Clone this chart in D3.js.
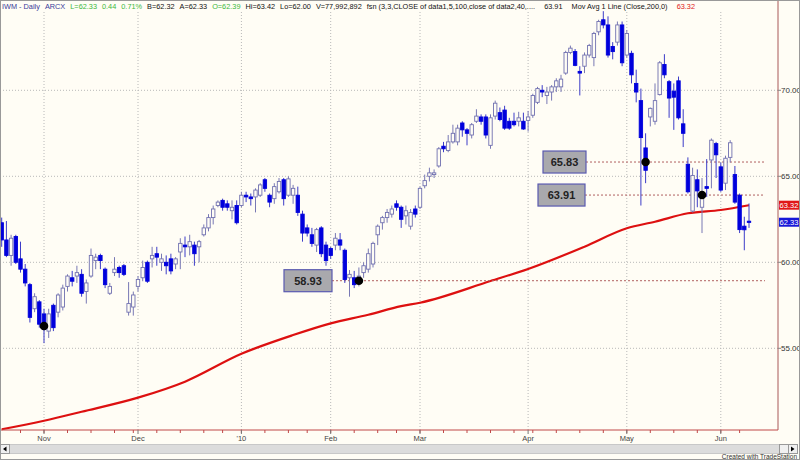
<!DOCTYPE html>
<html><head><meta charset="utf-8">
<script src="https://cdn.jsdelivr.net/npm/d3@7"></script>
<style>body{margin:0;background:#fff}svg{display:block}</style>
</head><body><svg id="c" width="800" height="460"></svg>
<script>
// ---------- DATA ----------
const dates = [
"2009-10-20","2009-10-21","2009-10-22","2009-10-23","2009-10-26","2009-10-27","2009-10-28","2009-10-29","2009-10-30",
"2009-11-02","2009-11-03","2009-11-04","2009-11-05","2009-11-06","2009-11-09","2009-11-10","2009-11-11","2009-11-12","2009-11-13","2009-11-16","2009-11-17","2009-11-18","2009-11-19","2009-11-20","2009-11-23","2009-11-24","2009-11-25","2009-11-27","2009-11-30",
"2009-12-01","2009-12-02","2009-12-03","2009-12-04","2009-12-07","2009-12-08","2009-12-09","2009-12-10","2009-12-11","2009-12-14","2009-12-15","2009-12-16","2009-12-17","2009-12-18","2009-12-21","2009-12-22","2009-12-23","2009-12-24","2009-12-28","2009-12-29","2009-12-30","2009-12-31",
"2010-01-04","2010-01-05","2010-01-06","2010-01-07","2010-01-08","2010-01-11","2010-01-12","2010-01-13","2010-01-14","2010-01-15","2010-01-19","2010-01-20","2010-01-21","2010-01-22","2010-01-25","2010-01-26","2010-01-27","2010-01-28","2010-01-29",
"2010-02-01","2010-02-02","2010-02-03","2010-02-04","2010-02-05","2010-02-08","2010-02-09","2010-02-10","2010-02-11","2010-02-12","2010-02-16","2010-02-17","2010-02-18","2010-02-19","2010-02-22","2010-02-23","2010-02-24","2010-02-25","2010-02-26",
"2010-03-01","2010-03-02","2010-03-03","2010-03-04","2010-03-05","2010-03-08","2010-03-09","2010-03-10","2010-03-11","2010-03-12","2010-03-15","2010-03-16","2010-03-17","2010-03-18","2010-03-19","2010-03-22","2010-03-23","2010-03-24","2010-03-25","2010-03-26","2010-03-29","2010-03-30","2010-03-31",
"2010-04-01","2010-04-05","2010-04-06","2010-04-07","2010-04-08","2010-04-09","2010-04-12","2010-04-13","2010-04-14","2010-04-15","2010-04-16","2010-04-19","2010-04-20","2010-04-21","2010-04-22","2010-04-23","2010-04-26","2010-04-27","2010-04-28","2010-04-29","2010-04-30",
"2010-05-03","2010-05-04","2010-05-05","2010-05-06","2010-05-07","2010-05-10","2010-05-11","2010-05-12","2010-05-13","2010-05-14","2010-05-17","2010-05-18","2010-05-19","2010-05-20","2010-05-21","2010-05-24","2010-05-25","2010-05-26","2010-05-27","2010-05-28",
"2010-06-01","2010-06-02","2010-06-03","2010-06-04","2010-06-07","2010-06-08","2010-06-09"];

const open = [62.3,61.3,60.4,61.5,60.2,59.6,58.7,57.3,57.7,
57.0,56.0,57.5,57.1,57.4,58.6,59.1,59.2,59.3,58.3,59.2,60.1,60.4,59.6,58.2,59.4,59.7,59.8,57.1,57.4,
58.6,59.1,60.0,60.2,60.5,60.0,60.0,60.2,59.9,60.6,61.0,60.9,61.0,60.9,61.6,62.0,62.6,63.3,63.6,63.4,63.0,63.3,
63.3,63.9,63.8,63.8,63.9,64.8,63.9,63.7,64.1,64.8,63.9,63.9,63.9,62.8,62.0,61.6,61.0,62.0,61.0,
60.8,61.0,61.3,60.7,59.1,59.1,58.9,59.4,59.6,59.9,61.6,62.3,62.6,62.8,63.4,63.2,62.7,62.1,63.1,
63.2,64.45,65.0,65.1,65.6,66.75,66.5,67.0,67.0,68.1,67.7,67.4,68.2,68.45,68.45,66.8,68.5,68.7,68.85,68.2,68.2,68.2,68.2,
68.25,68.55,69.3,70.0,69.7,69.9,70.2,70.2,71.0,72.2,72.25,71.1,71.4,72.05,71.9,73.4,74.1,73.8,72.55,72.8,73.8,
72.05,72.15,70.4,69.4,66.65,68.45,68.2,69.75,71.5,70.5,69.95,70.55,68.05,65.7,62.98,64.8,63.2,64.4,65.95,66.9,
65.55,64.6,66.1,65.1,63.9,62.1,62.39];
const high = [62.6,62.4,61.6,61.6,61.2,59.9,58.8,58.2,57.8,
57.3,57.3,57.6,58.2,58.7,59.3,59.5,59.8,59.6,59.0,60.8,60.5,60.5,59.7,58.8,60.3,59.8,59.9,58.85,58.3,
59.2,60.1,60.1,60.9,60.9,60.5,60.4,60.5,60.3,61.4,61.5,61.6,61.2,61.3,62.2,62.8,63.3,63.6,63.7,63.6,63.6,63.6,
64.1,64.1,64.0,64.3,64.6,64.9,64.0,64.6,64.9,64.9,65.0,64.5,64.4,63.0,62.2,62.0,62.0,62.1,61.2,
60.9,61.7,61.7,60.8,59.55,59.5,59.7,60.0,60.8,61.2,62.2,62.7,63.1,63.3,63.6,63.3,63.3,63.1,63.3,
64.4,65.1,65.5,65.4,66.7,67.0,67.4,68.0,68.0,68.2,67.8,68.1,68.9,68.6,68.6,68.6,69.4,69.0,69.1,68.4,68.7,68.75,68.7,
68.8,69.8,70.2,70.3,70.2,70.3,70.7,70.9,72.3,72.6,72.4,71.4,72.2,72.7,73.4,74.1,74.6,74.3,72.8,74.0,74.0,
73.5,72.3,71.2,70.1,67.5,69.0,70.4,71.7,72.1,70.6,70.4,70.8,68.9,66.1,65.5,65.4,64.9,66.0,67.2,67.0,
65.8,66.2,67.1,65.6,64.0,62.65,63.42];
const low = [60.9,60.3,59.8,59.9,59.4,58.6,56.5,57.1,56.2,
55.3,55.6,56.0,56.8,57.2,58.3,58.6,58.8,58.0,57.6,59.1,59.6,59.6,58.5,58.1,59.2,59.1,59.2,56.9,56.9,
58.3,58.9,58.8,59.7,59.8,59.5,59.3,59.3,59.6,59.6,60.3,60.4,59.8,60.0,61.5,61.8,62.2,63.2,63.0,63.0,62.5,62.2,
63.2,63.5,63.3,62.9,63.8,64.1,63.2,63.4,64.0,63.3,63.8,63.4,62.7,61.2,61.5,60.9,60.6,60.3,59.8,
60.2,60.7,60.7,58.8,58.0,58.5,58.6,59.1,59.4,59.7,61.0,61.9,62.3,62.6,63.0,62.0,62.2,61.9,62.6,
63.1,64.3,64.7,64.9,65.5,66.4,66.4,66.9,66.8,67.3,66.8,67.2,68.1,68.0,67.2,66.6,68.3,68.2,67.7,67.7,67.9,67.9,67.7,
67.6,68.4,69.2,69.6,69.2,69.4,69.9,69.9,70.9,72.1,71.4,69.7,71.0,71.9,71.4,73.2,73.6,71.9,71.8,72.6,71.4,
71.9,70.4,69.3,63.3,64.6,67.9,68.0,69.7,70.7,68.4,67.7,68.3,66.7,64.0,62.9,63.2,61.7,63.8,64.3,64.9,
64.1,64.2,65.8,63.4,61.7,60.7,62.00];
const close = [61.3,60.4,61.4,60.0,59.6,58.8,56.8,58.0,56.4,
56.1,57.0,56.2,58.1,58.5,59.2,58.9,59.4,58.2,58.8,60.4,60.3,60.1,58.7,58.6,59.6,59.4,59.3,57.6,58.1,
59.0,59.7,58.9,60.4,60.3,60.2,59.8,59.5,60.2,61.1,60.9,61.2,60.5,61.2,62.0,62.6,63.1,63.5,63.2,63.2,63.2,62.3,
63.9,63.8,63.7,64.2,64.5,64.3,63.5,64.4,64.7,63.7,64.85,64.3,62.9,61.7,61.7,61.1,61.9,60.5,60.1,
60.4,61.4,61.0,59.0,59.3,58.7,59.2,59.8,60.5,61.1,62.1,62.6,62.9,63.1,63.2,62.5,63.0,62.9,62.8,
64.3,64.75,65.2,65.2,66.6,66.6,67.0,67.5,67.8,67.7,67.5,68.0,68.5,68.2,67.4,68.4,69.25,68.3,67.8,67.8,68.0,68.4,67.75,
68.45,69.7,70.1,69.9,69.9,70.2,70.55,70.65,72.2,72.45,71.45,71.0,72.05,72.6,73.3,74.0,73.8,72.05,72.25,73.8,71.6,
73.3,70.9,69.9,67.25,65.35,68.95,69.4,71.6,70.9,69.55,69.6,68.4,67.5,64.1,65.05,64.15,63.9,64.3,67.1,66.25,
64.2,66.05,66.95,63.5,61.9,61.89,62.33];

// 200-day moving average, read at selected bars
const maDates  = ["2009-10-20","2009-11-02","2009-11-12","2009-12-01","2009-12-15","2010-01-04","2010-01-20","2010-02-01","2010-02-11","2010-02-23","2010-03-01","2010-03-22","2010-04-01","2010-04-20","2010-05-03","2010-05-11","2010-05-20","2010-06-01","2010-06-09"];
const maValues = [50.29,50.79,51.31,52.13,53.06,54.68,55.77,56.45,56.95,57.45,57.65,58.91,59.61,60.91,61.98,62.36,62.85,63.04,63.32];

const yTicks = [55,60,65,70];
const monthTickDates = ["2009-11-02","2009-12-01","2010-01-04","2010-02-01","2010-03-01","2010-04-01","2010-05-03","2010-06-01"];
const monthTickLabels = ["Nov","Dec","'10","Feb","Mar","Apr","May","Jun"];

const swingDots   = [{d:"2009-11-02",v:56.30},{d:"2010-02-09",v:58.93},{d:"2010-05-07",v:65.83},{d:"2010-05-25",v:63.91}];
const levelLabels = ["58.93","65.83","63.91"];
const levelValues = [58.93,65.83,63.91];
const lastClose = 62.33, lastMA = 63.32;
const headerParts = ["IWM - Daily","ARCX","L=62.33","0.44","0.71%","B=62.32","A=62.33","O=62.39","Hi=63.42","Lo=62.00",
  "V=77,992,892","fsn (3,3,CLOSE of data1,5,100,close of data2,40,....","63.91","Mov Avg 1 Line (Close,200,0)","63.32"];

// ---------- DRAW ----------
const svg = d3.select("#c");
const W = 800, H = 460, axisX = 778, axisY = 430;
const bg = "#fffdf5";
svg.append("rect").attr("width",W).attr("height",H).attr("fill",bg);

const x = d3.scalePoint().domain(dates).range([1.7, 749.0]);
const y = d3.scaleLinear().domain([50,75]).range([434.3, 4.3]);
const font = "'Liberation Sans', Arial, sans-serif";
const narrow = "'Liberation Sans Narrow','Liberation Sans',Arial,sans-serif";

// grid
const g = svg.append("g");
g.selectAll(".hg").data(yTicks).join("line")
 .attr("x1",0).attr("x2",axisX).attr("y1",d=>y(d)).attr("y2",d=>y(d))
 .attr("stroke","#b8b8b8").attr("stroke-dasharray","1,2");
g.selectAll(".vg").data(monthTickDates).join("line")
 .attr("x1",d=>x(d)).attr("x2",d=>x(d)).attr("y1",12).attr("y2",axisY)
 .attr("stroke","#b8b8b8").attr("stroke-dasharray","1,2");

// MA line
const ma = maDates.map((d,i)=>({d, v:maValues[i]}));
svg.append("path").datum(ma)
 .attr("d", d3.line().x(p=>x(p.d)).y(p=>y(p.v)).curve(d3.curveMonotoneX))
 .attr("fill","none").attr("stroke","#dd1010").attr("stroke-width",2.2);

// level lines and boxes
const boxes = [{x:284,w:48},{x:543,w:43},{x:538,w:47}];
levelValues.forEach((v,i)=>{
  const b = boxes[i], yy = y(v);
  svg.append("line").attr("x1",b.x+b.w).attr("x2",765).attr("y1",yy).attr("y2",yy)
    .attr("stroke","#b06060").attr("stroke-dasharray","2,2").attr("stroke-width",1);
  svg.append("rect").attr("x",b.x).attr("y",yy-11).attr("width",b.w).attr("height",22)
    .attr("fill","#a9a9ad").attr("stroke","#5a5ab0").attr("stroke-width",1.2);
  svg.append("text").attr("x",b.x+b.w/2).attr("y",yy+4).attr("text-anchor","middle")
    .attr("font-family",font).attr("font-weight","bold").attr("font-size",11).attr("fill","#222")
    .text(levelLabels[i]);
});

// candles
const idx = d3.range(dates.length);
const cg = svg.append("g");
const bw = 3.4;
cg.selectAll("line.w").data(idx).join("line")
 .attr("x1",i=>x(dates[i])).attr("x2",i=>x(dates[i]))
 .attr("y1",i=>y(high[i])).attr("y2",i=>y(low[i]))
 .attr("stroke",i=>close[i]>=open[i]?"#7878b4":"#3c3cc8").attr("stroke-width",1);
cg.selectAll("rect.b").data(idx).join("rect")
 .attr("x",i=>x(dates[i])-bw/2)
 .attr("y",i=>y(Math.max(open[i],close[i])))
 .attr("width",bw)
 .attr("height",i=>Math.max(1.2, Math.abs(y(open[i])-y(close[i]))))
 .attr("fill",i=>close[i]>=open[i]?bg:"#0000dc")
 .attr("stroke",i=>close[i]>=open[i]?"#7070b0":"#0000dc").attr("stroke-width",0.9);

// dots
svg.selectAll("circle.dot").data(swingDots).join("circle")
 .attr("cx",d=>x(d.d)).attr("cy",d=>y(d.v)).attr("r",4.3).attr("fill","#000");

// axes lines
svg.append("line").attr("x1",axisX).attr("x2",axisX).attr("y1",0).attr("y2",axisY)
 .attr("stroke","#a85858").attr("stroke-width",1);
svg.append("line").attr("x1",0).attr("x2",axisX).attr("y1",axisY).attr("y2",axisY)
 .attr("stroke","#c04848").attr("stroke-width",1);

// right axis labels
svg.selectAll("text.yl").data(yTicks).join("text")
 .attr("x",781).attr("y",d=>y(d)+3).attr("font-family",font).attr("font-size",8).attr("fill","#333")
 .text(d=>d.toFixed(2));
svg.selectAll("line.yt").data(yTicks).join("line")
 .attr("x1",axisX).attr("x2",781).attr("y1",d=>y(d)).attr("y2",d=>y(d)).attr("stroke","#888");

// price tags
[[lastMA,"#e01818"],[lastClose,"#1818d8"]].forEach(([v,c])=>{
  svg.append("rect").attr("x",779).attr("y",y(v)-4.5).attr("width",20).attr("height",9).attr("fill",c);
  svg.append("text").attr("x",789).attr("y",y(v)+3).attr("text-anchor","middle")
   .attr("font-family",font).attr("font-size",7.5).attr("fill","#fff").text(v.toFixed(2));
});

// x axis: weekly ticks and month labels
const parse = d3.timeParse("%Y-%m-%d");
const weekStarts = dates.filter((d,i)=> i>0 && parse(d).getDay() < parse(dates[i-1]).getDay());
svg.selectAll("line.wk").data(weekStarts).join("line")
 .attr("x1",d=>x(d)).attr("x2",d=>x(d)).attr("y1",axisY).attr("y2",axisY+3)
 .attr("stroke","#c04848");
svg.selectAll("line.mt").data(monthTickDates).join("line")
 .attr("x1",d=>x(d)).attr("x2",d=>x(d)).attr("y1",axisY).attr("y2",axisY+4)
 .attr("stroke","#777");
svg.selectAll("text.ml").data(monthTickDates).join("text")
 .attr("x",d=>x(d)).attr("y",441).attr("text-anchor","middle")
 .attr("font-family",narrow).attr("font-size",7.5).attr("fill","#444")
 .text((d,i)=>monthTickLabels[i]);

// scrollbar
svg.append("rect").attr("x",0.5).attr("y",444.5).attr("width",797).attr("height",9).attr("fill","#dcdcdc").attr("stroke","#c8c8c8");
svg.append("rect").attr("x",0.5).attr("y",444.5).attr("width",9).attr("height",9).attr("fill","#f0f0f0").attr("stroke","#999");
svg.append("path").attr("d","M3,449 L6.5,446.5 L6.5,451.5 Z").attr("fill","#000");
svg.append("rect").attr("x",779.5).attr("y",444.5).attr("width",9).attr("height",9).attr("fill","#f0f0f0").attr("stroke","#999");
svg.append("rect").attr("x",788.5).attr("y",444.5).attr("width",9).attr("height",9).attr("fill","#f0f0f0").attr("stroke","#999");
svg.append("path").attr("d","M794.5,449 L791,446.5 L791,451.5 Z").attr("fill","#000");
svg.append("text").attr("x",797).attr("y",459).attr("text-anchor","end")
 .attr("font-family",narrow).attr("font-size",6.5).attr("fill","#333")
 .text("Created with TradeStation");

// header: separate text pieces laid out in a row fitted to the reference width
const headerColors = ["#3a3a9a","#3a3a9a","#3cb83c","#3cb83c","#3cb83c","#111","#111","#3cb83c","#111","#111","#111","#111","#111","#111","#e02020"];
const gaps = headerParts.map((t,i)=> i===0 ? 0 : (i>=12 ? 9 : 5));
const baseFs = 8.5;
const hts = svg.selectAll("text.hd").data(headerParts).join("text").attr("class","hd")
  .attr("y",9).attr("font-family",font).attr("font-size",baseFs)
  .attr("fill",(d,i)=>headerColors[i]).text(d=>d);
const widths = hts.nodes().map(n=>n.getComputedTextLength());
const totalGap = d3.sum(gaps), k = (693 - totalGap) / d3.sum(widths);
let cx = 2;
hts.attr("font-size", baseFs*k).attr("x",(d,i)=>{ cx += gaps[i]; const p = cx; cx += widths[i]*k; return p; });

// frame
svg.append("rect").attr("x",0.5).attr("y",0.5).attr("width",W-1).attr("height",H-1).attr("fill","none").attr("stroke","#999");
</script></body></html>
